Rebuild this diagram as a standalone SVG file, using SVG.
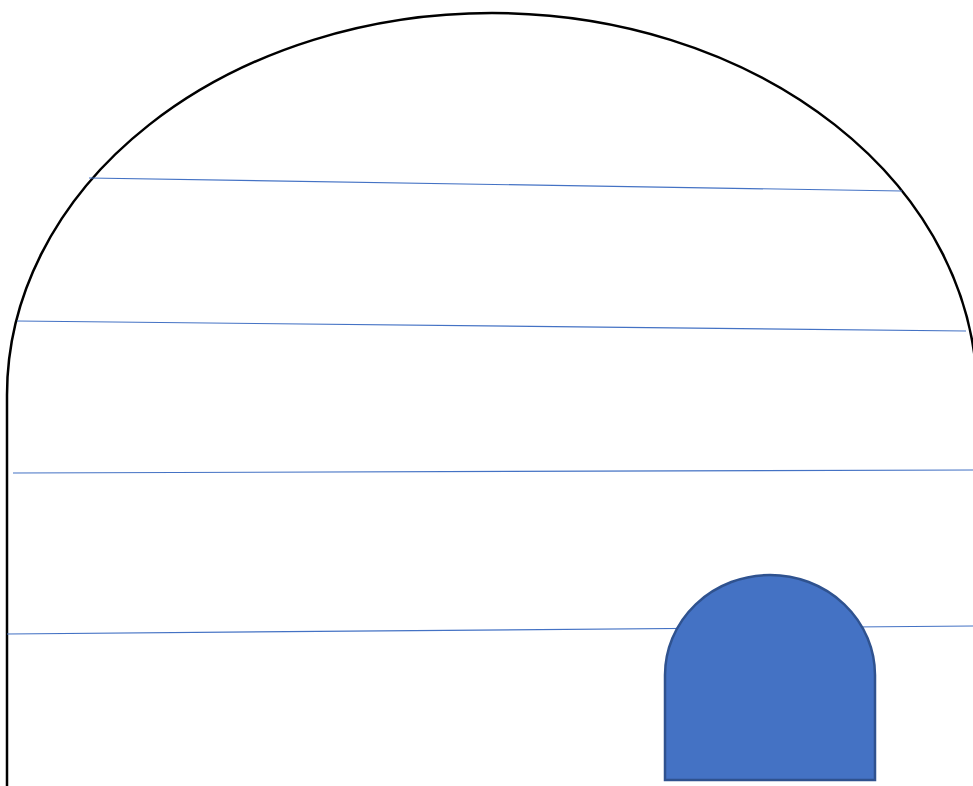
<svg xmlns="http://www.w3.org/2000/svg" width="973" height="786" viewBox="0 0 973 786">
<style>
.wall{fill:none;stroke:#000;stroke-width:2.5}
.row{stroke:#4472C4;stroke-width:1.2;fill:none}
.door{fill:#4472C4;stroke:#2F528F;stroke-width:2.5}
</style>
<rect width="973" height="786" fill="#fff"/>
<g id="igloo">
<path class="wall" d="M7,790 L7,395 A485,382 0 0 1 977,395 L977,790"/>
</g>
<g id="rows">
<line class="row" x1="89" y1="178" x2="902" y2="191"/>
<line class="row" x1="17" y1="321" x2="966" y2="331"/>
<line class="row" x1="13" y1="473" x2="973" y2="470"/>
<line class="row" x1="7" y1="634" x2="973" y2="626"/>
</g>
<g id="door">
<path class="door" d="M665,780 L665,675 A105,100 0 0 1 875,675 L875,780 Z"/>
</g>
</svg>
